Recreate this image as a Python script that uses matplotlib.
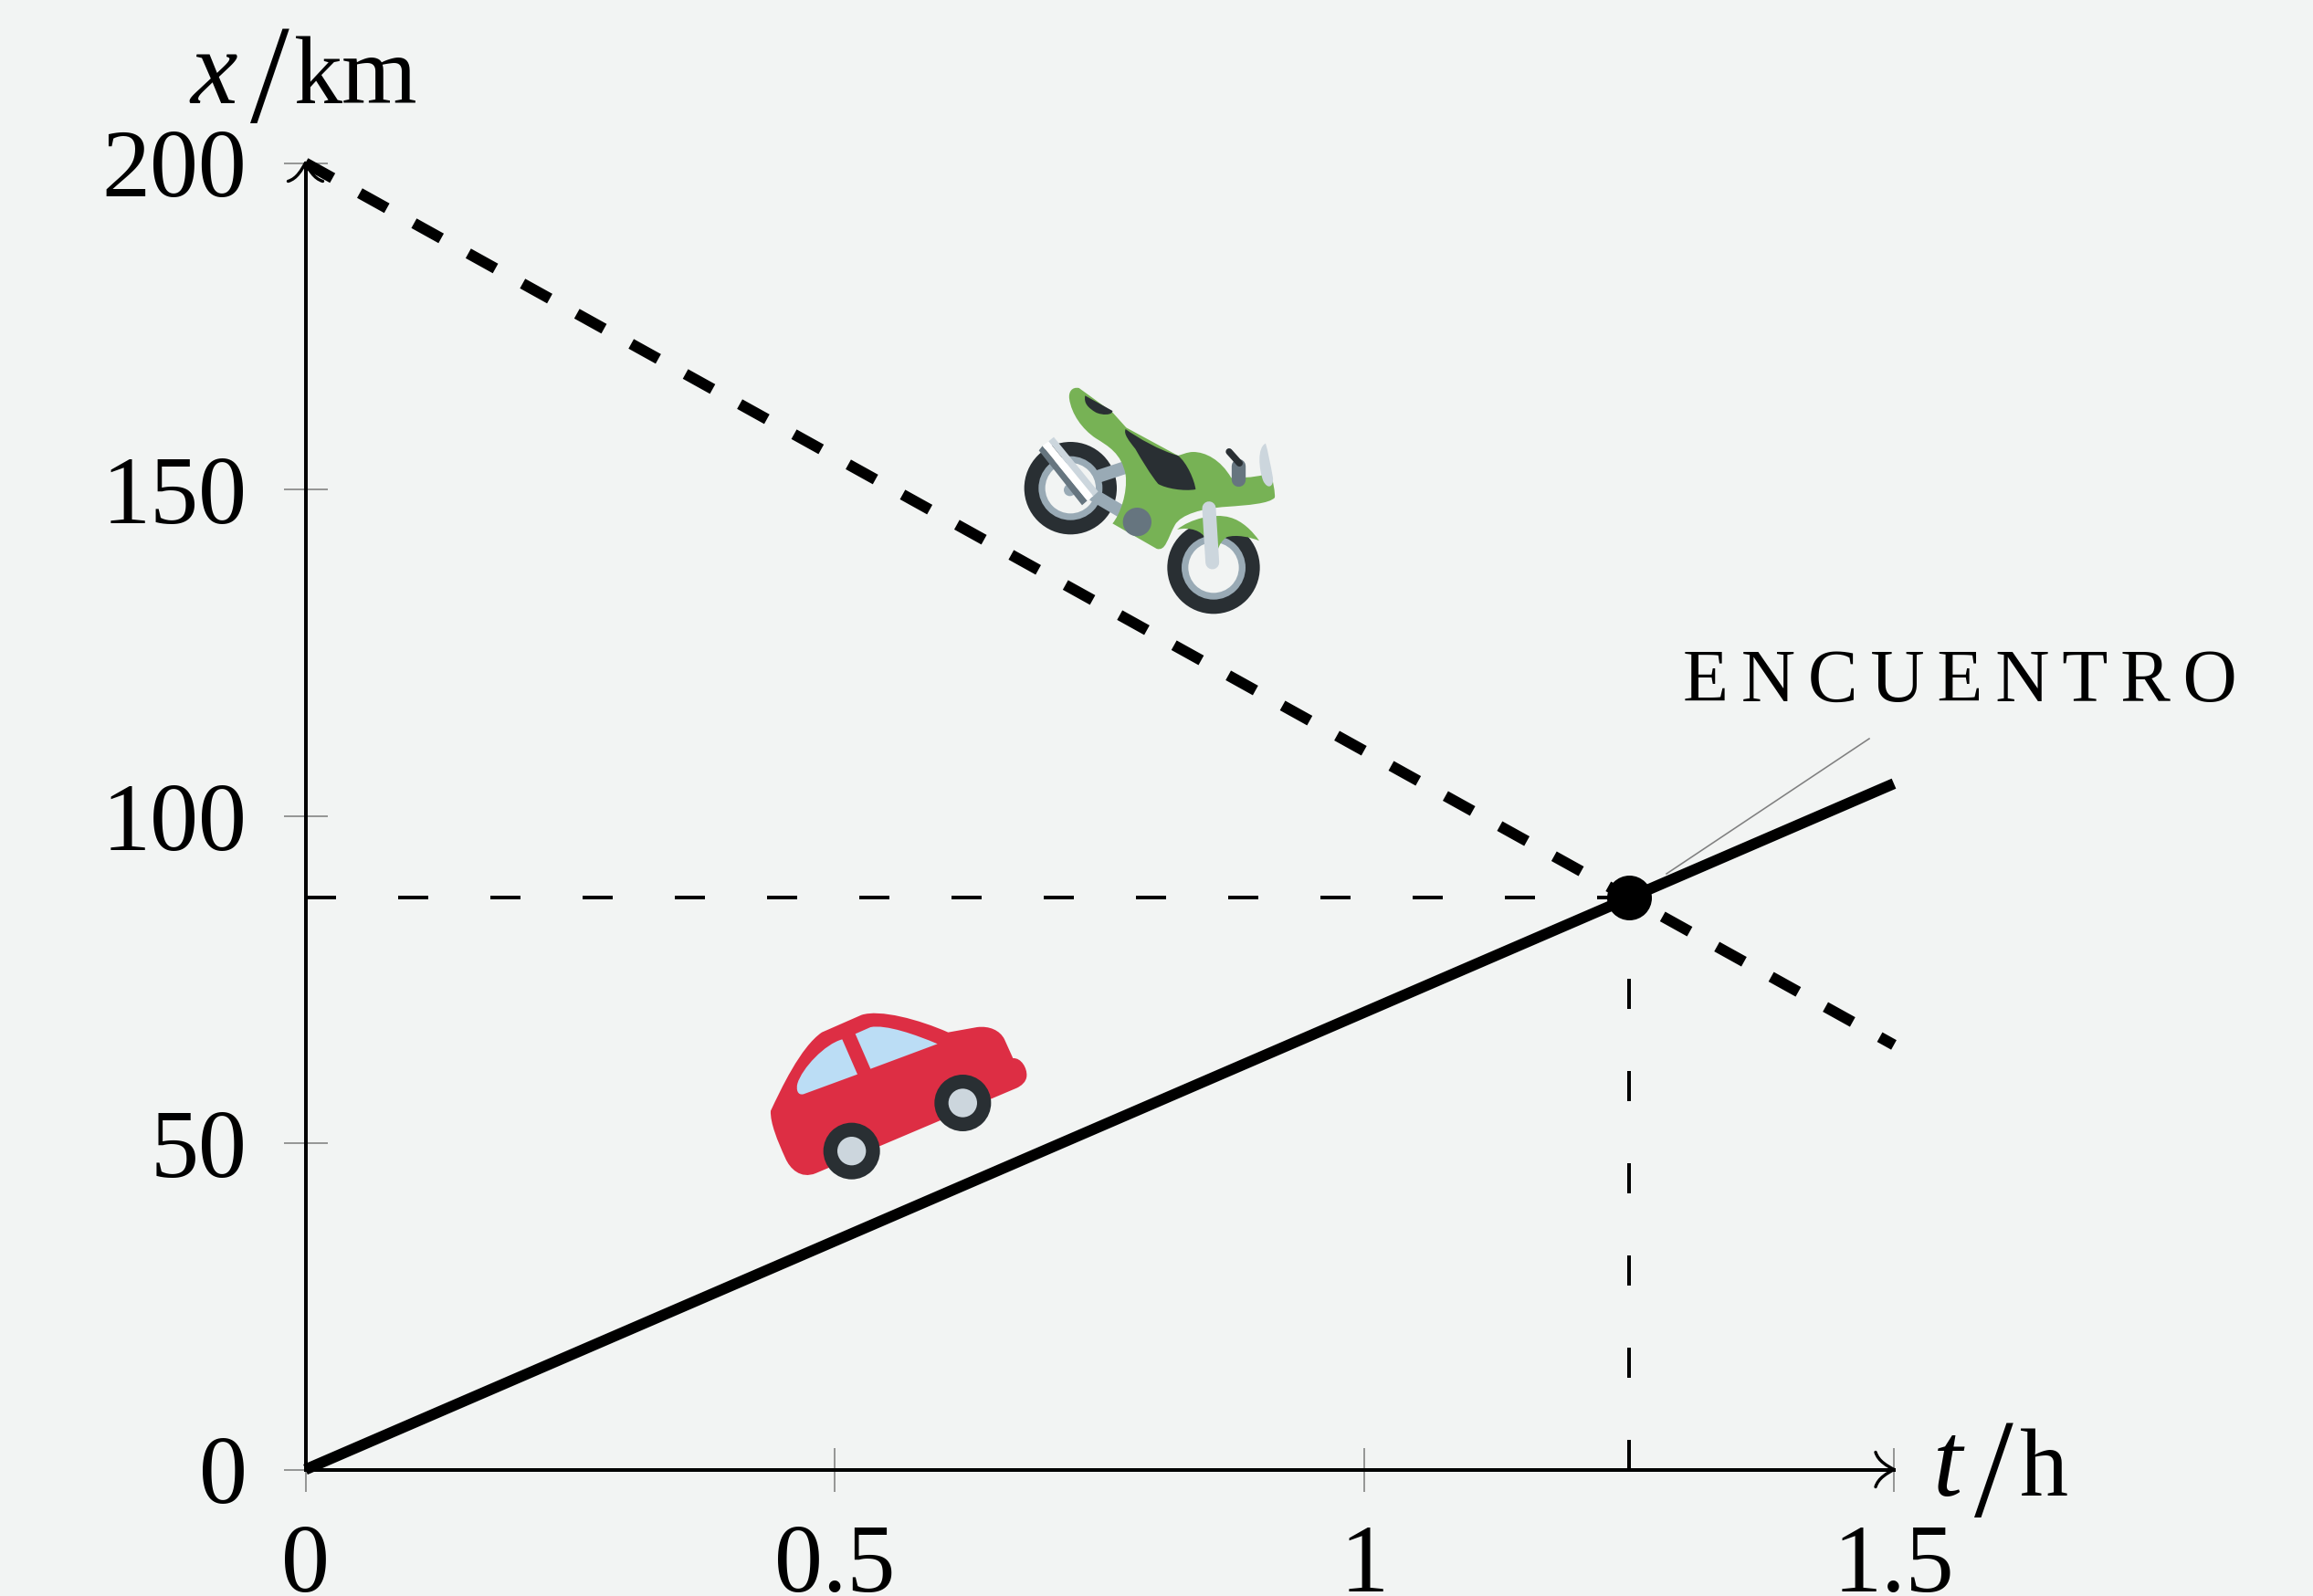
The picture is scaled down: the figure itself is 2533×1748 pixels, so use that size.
import matplotlib
matplotlib.use("Agg")
import matplotlib.pyplot as plt
from matplotlib.path import Path
from matplotlib.patches import PathPatch, Circle

W, H = 2533, 1748
DPI = 100
BG = "#F2F4F3"
plt.rcParams["font.family"] = ["Liberation Serif", "DejaVu Serif"]

# ---- data ----
car_t = [0, 1.5]
car_x = [0, 105]
moto_t = [0, 1.5]
moto_x = [200, 65]
meet_t = 1.25
meet_x = 87.5
t_ticks = [0, 0.5, 1, 1.5]
t_labels = ["0", "0.5", "1", "1.5"]
x_ticks = [0, 50, 100, 150, 200]
x_labels = ["0", "50", "100", "150", "200"]

px = 72 / DPI  # points per pixel
fig = plt.figure(figsize=(W / DPI, H / DPI), dpi=DPI, facecolor=BG)
L, R, T, B = 334.5, 2074, 178.5, 1609.5
ax = fig.add_axes([L / W, 1 - B / H, (R - L) / W, (B - T) / H])
ax.set_facecolor("none")
ax.set_xlim(0, 1.5)
ax.set_ylim(0, 200)
for s in ("top", "right"):
    ax.spines[s].set_visible(False)
for s in ("left", "bottom"):
    ax.spines[s].set_linewidth(4 * px)
    ax.spines[s].set_color("black")
ax.set_xticks(t_ticks, t_labels)
ax.set_yticks(x_ticks, x_labels)
FS = 106 * px
ax.tick_params(axis="both", direction="inout", length=48 * px, width=1.6 * px,
               color="#808080", labelsize=FS)
ax.tick_params(axis="x", pad=36 * px)
ax.tick_params(axis="y", pad=40 * px)

LW = 12 * px
ax.plot(moto_t, moto_x, color="black", lw=LW, solid_capstyle="butt",
        dashes=(34 / 12, 34 / 12), dash_capstyle="butt", clip_on=False, zorder=3)
ax.plot(car_t, car_x, color="black", lw=LW, solid_capstyle="butt", clip_on=False, zorder=4)
thin = 4 * px
ax.plot([0, meet_t], [meet_x, meet_x], color="black", lw=thin,
        dashes=(33 / 4, 68 / 4), dash_capstyle="butt", zorder=2)
ax.plot([meet_t, meet_t], [0, meet_x], color="black", lw=thin,
        dashes=(33 / 4, 68 / 4), dash_capstyle="butt", zorder=2)
ax.plot([meet_t], [meet_x], "o", color="black", ms=49 * px, mew=0, clip_on=False, zorder=5)

# ---- pixel overlay for labels, arrow heads, pictograms ----
ov = fig.add_axes([0, 0, 1, 1])
ov.set_xlim(0, W)
ov.set_ylim(H, 0)
ov.axis("off")
ov.patch.set_alpha(0)


def label(x, y, s, size=106, style="normal"):
    ov.text(x, y, s, fontsize=size * px, style=style, ha="left", va="baseline", color="black")


label(208, 113, "x", 116, "italic")
label(274, 133, "/", 154)
label(322, 113, "km")
label(2117, 1638, "t", 116, "italic")
label(2162, 1660, "/", 154)
label(2212, 1638, "h")
label(1843, 768, "\u200a\u200a".join("ENCUENTRO"), 82)
ov.plot([1825, 2047], [957, 809], color="#808080", lw=1.6 * px)


def head(x, y, pts):
    verts = [(x, y)] + [(x + a, y + b) for a, b in pts]
    codes = [Path.MOVETO, Path.CURVE4, Path.CURVE4, Path.CURVE4]
    ov.add_patch(PathPatch(Path(verts, codes), fc="none", ec="black", lw=3.4 * px, capstyle="round"))


head(R, B, [(-7, -4), (-17, -9), (-20, -19)])
head(R, B, [(-7, 4), (-17, 9), (-20, 19)])
head(L, T, [(-4, 7), (-9, 17), (-19, 20)])
head(L, T, [(4, 7), (9, 17), (19, 20)])


def shape(ox, oy, spec, color, z=6):
    """spec: start point followed by (c1, c2, end) curves or single line points, zoom-crop units (1/3 px)."""
    verts, codes = [], []
    for i, seg in enumerate(spec):
        if i == 0:
            verts.append(seg)
            codes.append(Path.MOVETO)
        elif len(seg) == 3:
            verts.extend(seg)
            codes.extend([Path.CURVE4] * 3)
        else:
            verts.append(seg)
            codes.append(Path.LINETO)
    verts.append(verts[0])
    codes.append(Path.CLOSEPOLY)
    verts = [(ox + a / 3, oy + b / 3) for a, b in verts]
    ov.add_patch(PathPatch(Path(verts, codes), fc=color, ec="none", zorder=z))


def disc(ox, oy, cx, cy, r, color, z=6):
    ov.add_patch(Circle((ox + cx / 3, oy + cy / 3), r / 3, fc=color, ec="none", zorder=z))


def bar(ox, oy, a, b, w, color, z=6, cap="round"):
    ov.plot([ox + a[0] / 3, ox + b[0] / 3], [oy + a[1] / 3, oy + b[1] / 3], color=color,
            lw=w / 3 * px, solid_capstyle=cap, zorder=z)


RED, SKY, DARK, PALE = "#DD2E44", "#BBDDF5", "#292F33", "#CCD6DD"
GREEN, STEEL, SLATE = "#77B255", "#99AAB5", "#66757F"

# car
cx0, cy0 = 820, 1090
shape(cx0, cy0, [(72, 380), ((105, 310), (170, 170), (240, 122)), (370, 65),
                 ((430, 45), (560, 80), (655, 122)), (750, 105),
                 ((790, 100), (825, 115), (840, 145)), (868, 207),
                 ((895, 205), (915, 240), (913, 265)), ((912, 285), (895, 298), (880, 305)),
                 (220, 585), ((170, 605), (135, 570), (120, 535)),
                 ((95, 480), (70, 420), (72, 380))], RED)
shape(cx0, cy0, [(350, 127), (400, 105), ((450, 95), (550, 130), (620, 160)), (400, 242)], SKY, 7)
shape(cx0, cy0, [(307, 145), (357, 260), (180, 325), ((160, 330), (155, 310), (160, 290)),
                 ((175, 240), (250, 160), (307, 145))], SKY, 7)
for c in ((338, 512), (703, 354)):
    disc(cx0, cy0, *c, 93, DARK, 7)
    disc(cx0, cy0, *c, 47, PALE, 8)

# motorcycle
mx0, my0 = 1090, 400
for c in ((247, 404), (717, 665)):
    disc(mx0, my0, *c, 152, DARK)
    disc(mx0, my0, *c, 105, STEEL)
    disc(mx0, my0, *c, 83, BG)
disc(mx0, my0, 245, 410, 20, STEEL, 6.1)
bar(mx0, my0, (330, 368), (430, 335), 42, STEEL, 6.2, "butt")
bar(mx0, my0, (320, 425), (430, 490), 42, STEEL, 6.2, "butt")
shape(mx0, my0, [(385, 520), (530, 603), ((560, 612), (565, 570), (590, 525)),
                 ((610, 490), (680, 470), (760, 465)), ((830, 460), (900, 455), (918, 435)),
                 ((920, 420), (912, 380), (905, 350)), ((880, 365), (840, 370), (775, 370)),
                 ((740, 310), (690, 285), (650, 285)), ((630, 285), (610, 295), (600, 297)),
                 (430, 205), (385, 155), (275, 75), ((250, 70), (240, 90), (243, 110)),
                 ((250, 160), (285, 210), (330, 240)), ((370, 265), (415, 290), (428, 360)),
                 ((435, 420), (410, 490), (385, 520))], GREEN, 6.3)
shape(mx0, my0, [(428, 210), ((470, 240), (540, 280), (600, 297)), ((630, 320), (655, 380), (658, 408)),
                 ((620, 415), (560, 405), (535, 390)), ((510, 360), (480, 310), (460, 275)),
                 ((440, 250), (420, 225), (428, 210))], DARK, 6.4)
shape(mx0, my0, [(295, 100), (385, 150), ((385, 165), (350, 165), (330, 155)),
                 ((305, 140), (290, 125), (295, 100))], DARK, 6.4)
disc(mx0, my0, 466, 515, 47, SLATE, 6.5)
shape(mx0, my0, [(143, 280), (155, 265), (302, 445), (285, 460)], SLATE, 6.6)
shape(mx0, my0, [(155, 265), (175, 250), (322, 430), (302, 445)], "white", 6.6)
shape(mx0, my0, [(175, 250), (192, 236), (338, 415), (322, 430)], PALE, 6.6)
shape(mx0, my0, [(597, 540), ((640, 505), (720, 485), (770, 500)), ((810, 510), (845, 545), (867, 577)),
                 ((840, 565), (790, 555), (760, 565)), ((745, 575), (735, 590), (730, 610)), (690, 570),
                 ((680, 545), (640, 530), (597, 540))], GREEN, 6.3)
bar(mx0, my0, (702, 470), (713, 648), 45, PALE, 6.35)
bar(mx0, my0, (797, 330), (797, 376), 46, SLATE, 6.4)
bar(mx0, my0, (768, 284), (802, 322), 22, DARK, 6.5)
shape(mx0, my0, [(888, 257), ((860, 270), (865, 340), (880, 380)), ((895, 410), (915, 400), (912, 370)),
                 ((905, 330), (895, 280), (888, 257))], PALE, 6.4)

fig.savefig("out.png", dpi=DPI, facecolor=BG)
